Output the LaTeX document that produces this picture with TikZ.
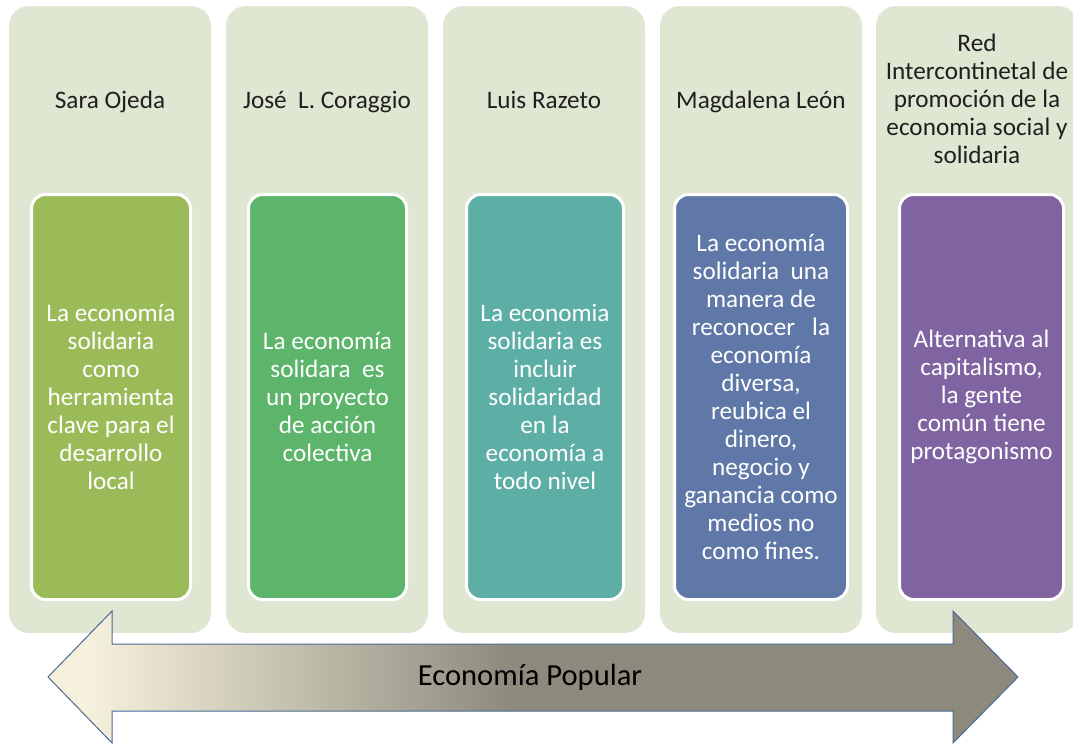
\documentclass[tikz,border=0pt]{standalone}
\usepackage{fontspec}
\setmainfont{Carlito}
\usetikzlibrary{positioning}
\definecolor{panelbg}{HTML}{DFE7D3}
\definecolor{ojeda}{HTML}{9BBB59}
\definecolor{coraggio}{HTML}{5CB56A}
\definecolor{razeto}{HTML}{5DAEA5}
\definecolor{leon}{HTML}{6078A8}
\definecolor{redint}{HTML}{8064A2}
\definecolor{arrowline}{HTML}{4A6A94}
\definecolor{cream}{HTML}{F6F1DC}
\definecolor{taupe}{HTML}{8D8A7D}
\pgfdeclarehorizontalshading{popshade}{100bp}{color(0bp)=(cream); color(27bp)=(cream); color(37bp)=(cream!55!taupe); color(49bp)=(taupe); color(100bp)=(taupe)}
\tikzstyle{panel}=[rectangle,rounded corners=10pt,fill=panelbg,minimum width=101pt,minimum height=313.5pt]
\tikzstyle{idea}=[rectangle,rounded corners=7pt,draw=white,line width=1.5pt,minimum height=202.5pt,inner sep=0pt,text=white,align=center,font=\fontsize{12.6}{14}\selectfont]
\tikzstyle{author}=[align=center,text=black!88,inner sep=0pt,font=\fontsize{12.6}{14}\selectfont]

\begin{document}
\begin{tikzpicture}[x=0.5pt,y=-0.5pt]
    \clip (0,0) rectangle (1073,744);
    \node[panel] (p1) at (110,319.5) {};
    \node[panel] (p2) at (327,319.5) {};
    \node[panel] (p3) at (544,319.5) {};
    \node[panel] (p4) at (761,319.5) {};
    \node[panel] (p5) at (977,319.5) {};
    \node[author, anchor=base] (t1) at (110,108) {Sara Ojeda};
    \node[author, anchor=base] (t2) at (327,108) {José\ \ L. Coraggio};
    \node[author, anchor=base] (t3) at (544,108) {Luis Razeto};
    \node[author, anchor=base] (t4) at (761,108) {Magdalena León};
    \node[author] (t5) at (977,98.5) {Red\\Intercontinetal de\\promoción de la\\economia social y\\solidaria};
    \node[idea, fill=ojeda, minimum width=79.5pt] (b1) at (111,397) {La economía\\solidaria\\como\\herramienta\\clave para el\\desarrollo\\local};
    \node[idea, fill=coraggio, minimum width=79pt] (b2) at (327.5,397) {La economía\\solidara\ \ es\\un proyecto\\de acción\\colectiva};
    \node[idea, fill=razeto, minimum width=78.5pt] (b3) at (545,397) {La economia\\solidaria es\\incluir\\solidaridad\\en la\\economía a\\todo nivel};
    \node[idea, fill=leon, minimum width=86.5pt] (b4) at (761,397) {La economía\\solidaria\ \ una\\manera de\\reconocer\ \ \ la\\economía\\diversa,\\reubica el\\dinero,\\negocio y\\ganancia como\\medios no\\como fines.};
    \node[idea, fill=redint, minimum width=82pt] (b5) at (981.5,397) {Alternativa al\\capitalismo,\\la gente\\común tiene\\protagonismo};
    % double arrow along the bottom
    \shadedraw[shading=popshade, draw=arrowline, line width=0.5pt, line join=miter]
        (48,677) -- (112,611) -- (112,644) -- (953,644) -- (953,611) -- (1018,677)
        -- (953,743) -- (953,711) -- (112,711) -- (112,743) -- cycle;
    \node[font=\fontsize{15.3}{18}\selectfont] (pop) at (530,677) {Economía Popular};
\end{tikzpicture}
\end{document}
